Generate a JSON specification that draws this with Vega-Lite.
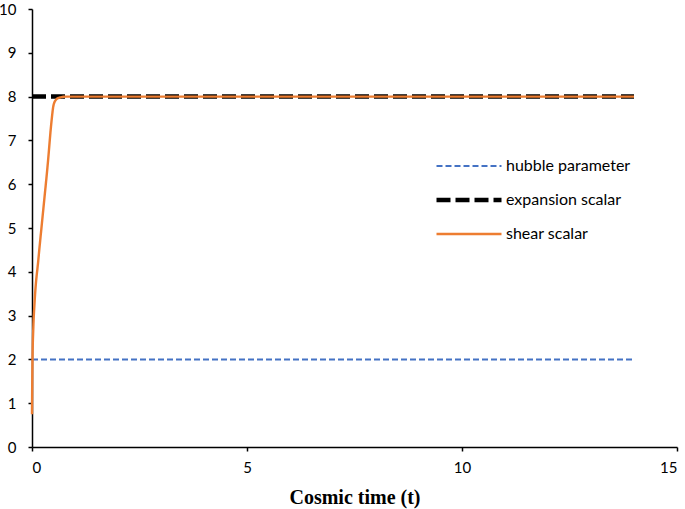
{
  "$schema": "https://vega.github.io/schema/vega-lite/v6.json",
  "width": 645,
  "height": 438,
  "autosize": "none",
  "padding": {"left": 32, "top": 9, "right": 8, "bottom": 62},
  "background": "white",
  "config": {
    "view": {"stroke": null},
    "font": "Lato",
    "axis": {"grid": false, "domainColor": "#000000", "tickColor": "#000000", "labelColor": "#000000", "labelFont": "Lato", "labelFontSize": 15, "domainWidth": 1.5, "tickWidth": 1.5}
  },
  "data": {
    "values": [
      {"t": 0, "value": 2, "series": "hubble parameter"},
      {"t": 14, "value": 2, "series": "hubble parameter"},
      {"t": 0, "value": 8, "series": "expansion scalar"},
      {"t": 14, "value": 8, "series": "expansion scalar"},
      {"t": 0, "value": 0.75, "series": "shear scalar"},
      {"t": 0.01, "value": 1.9, "series": "shear scalar"},
      {"t": 0.03, "value": 2.7, "series": "shear scalar"},
      {"t": 0.06, "value": 3.3, "series": "shear scalar"},
      {"t": 0.15, "value": 4.3, "series": "shear scalar"},
      {"t": 0.25, "value": 5.3, "series": "shear scalar"},
      {"t": 0.37, "value": 6.5, "series": "shear scalar"},
      {"t": 0.45, "value": 7.4, "series": "shear scalar"},
      {"t": 0.5, "value": 7.8, "series": "shear scalar"},
      {"t": 0.56, "value": 7.93, "series": "shear scalar"},
      {"t": 0.65, "value": 7.98, "series": "shear scalar"},
      {"t": 0.8, "value": 8.0, "series": "shear scalar"},
      {"t": 14, "value": 8.0, "series": "shear scalar"}
    ]
  },
  "mark": {"type": "line", "interpolate": "monotone"},
  "encoding": {
    "x": {"field": "t", "type": "quantitative", "scale": {"domain": [0, 15]}, "axis": {"values": [0, 5, 10, 15], "title": "Cosmic time (t)", "titleFont": "Liberation Serif", "titleFontSize": 20, "titleFontWeight": "bold", "titleColor": "#000000", "titlePadding": 12, "labelPadding": 9, "tickSize": 4}},
    "y": {"field": "value", "type": "quantitative", "scale": {"domain": [0, 10]}, "axis": {"values": [0,1,2,3,4,5,6,7,8,9,10], "title": null, "tickSize": 4, "labelPadding": 12}},
    "color": {"field": "series", "type": "nominal", "sort": ["hubble parameter", "expansion scalar", "shear scalar"], "scale": {"domain": ["hubble parameter", "expansion scalar", "shear scalar"], "range": ["#4472C4", "#000000", "#ED7D31"]},
      "legend": {"title": null, "orient": "none", "legendX": 402, "legendY": 141, "symbolType": "stroke", "symbolSize": 4225, "clipHeight": 32, "labelFont": "Lato", "labelFontSize": 16, "labelColor": "#000000", "rowPadding": 2, "labelOffset": 2}},
    "strokeDash": {"field": "series", "type": "nominal", "sort": ["hubble parameter", "expansion scalar", "shear scalar"], "scale": {"domain": ["hubble parameter", "expansion scalar", "shear scalar"], "range": [[6, 3], [14, 5], [1, 0]]}},
    "strokeWidth": {"field": "series", "type": "nominal", "sort": ["hubble parameter", "expansion scalar", "shear scalar"], "scale": {"type": "ordinal", "domain": ["hubble parameter", "expansion scalar", "shear scalar"], "range": [2, 4.5, 2.4]}}
  }
}
